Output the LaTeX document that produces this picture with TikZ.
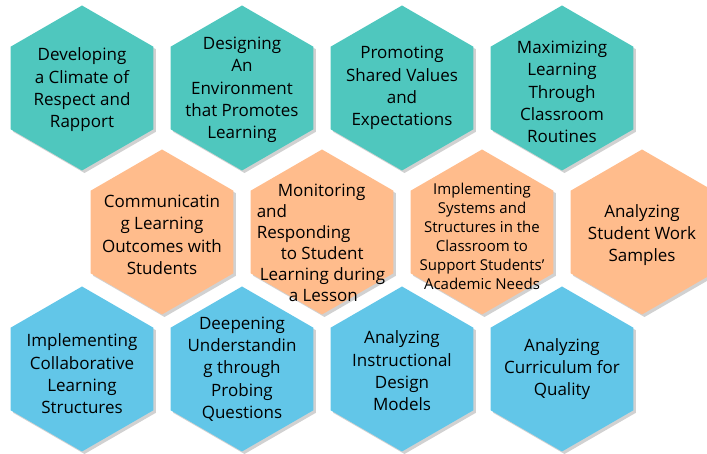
\documentclass[tikz,border=0pt]{standalone}
\usepackage{fontspec}
\setmainfont{Open Sans}
\usetikzlibrary{shapes.geometric}
\usetikzlibrary{shadows}
\definecolor{hexteal}{HTML}{4FC7BE}
\definecolor{hexorange}{HTML}{FFBC8C}
\definecolor{hexblue}{HTML}{62C6E8}
\begin{document}
\begin{tikzpicture}[x=1pt,y=1pt,
  hexagon/.style={regular polygon,regular polygon sides=6,shape border rotate=90,
    minimum size=165pt,inner sep=0pt,draw=none,fill=#1,
    drop shadow={shadow xshift=2.5pt,shadow yshift=-2.5pt,opacity=0.18,fill=black}},
  txt/.style={align=center,inner sep=0pt,font=\fontsize{17}{22.3}\selectfont},
  smalltxt/.style={align=center,inner sep=0pt,font=\fontsize{15}{19}\selectfont}]
\useasboundingbox (0,0) rectangle (707,454);
% top row
\node [hexagon=hexteal] (climate) at (82,366) {};
\node [hexagon=hexteal] (environment) at (242,366) {};
\node [hexagon=hexteal] (values) at (402,366) {};
\node [hexagon=hexteal] (routines) at (562,366) {};
% middle row
\node [hexagon=hexorange] (outcomes) at (162,222) {};
\node [hexagon=hexorange] (monitoring) at (322,222) {};
\node [hexagon=hexorange] (systems) at (482,222) {};
\node [hexagon=hexorange] (samples) at (642,222) {};
% bottom row
\node [hexagon=hexblue] (collab) at (82,85) {};
\node [hexagon=hexblue] (probing) at (242,85) {};
\node [hexagon=hexblue] (design) at (402,85) {};
\node [hexagon=hexblue] (curriculum) at (562,85) {};
% labels
\node [txt,yshift=-2pt] at (climate) {Developing\\a Climate of\\Respect and\\Rapport};
\node [txt,yshift=-2pt] at (environment) {Designing\\An\\Environment\\that Promotes\\Learning};
\node [txt] at (values) {Promoting\\Shared Values\\and\\Expectations};
\node [txt,yshift=-4pt] at (routines) {Maximizing\\Learning\\Through\\Classroom\\Routines};
\node [txt,yshift=-3pt] at (outcomes) {Communicatin\\g Learning\\Outcomes with\\Students};
\node [align=left,inner sep=0pt,font=\fontsize{17}{21}\selectfont,yshift=-11pt,xshift=-1pt] at (monitoring)
  {\hspace*{21pt}Monitoring\\and\\Responding\\\hspace*{24pt}to Student\\\hspace*{3pt}Learning during\\\hspace*{32pt}a Lesson};
\node [smalltxt,yshift=-4pt] at (systems) {Implementing\\Systems and\\Structures in the\\Classroom to\\Support Students’\\Academic Needs};
\node [txt,yshift=-3pt] at (samples) {Analyzing\\Student Work\\Samples};
\node [txt,yshift=-5pt] at (collab) {Implementing\\Collaborative\\Learning\\Structures};
\node [txt] at (probing) {Deepening\\Understandin\\g through\\Probing\\Questions};
\node [txt,yshift=-2pt] at (design) {Analyzing\\Instructional\\Design\\Models};
\node [txt] at (curriculum) {Analyzing\\Curriculum for\\Quality};
\end{tikzpicture}
\end{document}
